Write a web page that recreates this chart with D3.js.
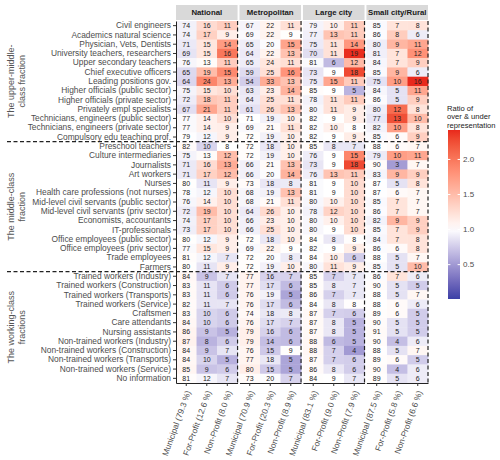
<!DOCTYPE html>
<html><head><meta charset="utf-8">
<script src="https://cdn.jsdelivr.net/npm/d3@7"></script>
<style>body{margin:0;background:#fff} svg{display:block} text{font-family:"Liberation Sans",Arial,sans-serif}</style>
</head><body><svg id="c" width="500" height="460"></svg>
<script>
const occupations = [
 "Civil engineers","Academics natural science","Physician, Vets, Dentists","University teachers, researchers",
 "Upper secondary teachers","Chief executive officers","Leading positions gov.","Higher officials (public sector)",
 "Higher officials (private sector)","Privately empl specialists","Technicians, engineers (public sector)",
 "Technicians, engineers (private sector)","Compulsory edu teaching prof.",
 "Preschool teachers","Culture intermediaries","Journalists","Art workers","Nurses",
 "Health care professions (not nurses)","Mid-level civil servants (public sector)","Mid-level civil servants (priv sector)",
 "Economists, accountants","IT-professionals","Office employees (public sector)","Office employees (priv sector)",
 "Trade employees","Farmers",
 "Trained workers (Industry)","Trained workers (Construction)","Trained workers (Transports)","Trained workers (Service)",
 "Craftsmen","Care attendants","Nursing assistants","Non-trained workers (Industry)","Non-trained workers (Construction)",
 "Non-trained workers (Transports)","Non-trained workers (Service)","No information"
];
const groupLabels = [["The upper-middle-","class fraction"],["The middle-class","fraction"],["The working-class","fractions"]];
const groupSizes = [13,14,12];
const areas = ["National","Metropolitan","Large city","Small city/Rural"];
const sectors = ["Municipal","For-Profit","Non-Profit"];
const sharesNational = [79.3,12.6,8.0];
const sharesMetropolitan = [70.9,20.3,8.9];
const sharesLargeCity = [83.1,9.0,7.9];
const sharesSmallCity = [87.5,5.8,6.6];
const valuesNational = [
 [74,16,11],[74,17,9],[71,15,14],[69,15,16],[76,13,11],[65,19,15],[64,24,13],[75,15,10],[72,18,11],[67,21,11],[77,14,10],[77,14,9],[79,12,9],
 [82,10,8],[75,13,12],[71,16,13],[71,17,12],[80,11,9],[78,12,10],[76,14,10],[72,19,10],[74,17,10],[73,17,10],[80,12,9],[77,15,9],[81,12,7],[80,11,9],
 [84,9,7],[83,11,6],[83,11,6],[82,11,7],[83,10,6],[84,10,6],[86,9,5],[87,8,6],[84,9,7],[84,10,5],[85,9,6],[81,12,7]
];
const valuesMetropolitan = [
 [67,22,11],[69,22,9],[65,20,15],[64,22,13],[65,24,11],[59,25,16],[54,33,13],[63,23,14],[64,25,11],[61,26,13],[71,19,10],[69,21,11],[72,19,10],
 [72,18,10],[72,19,10],[66,21,13],[66,20,14],[73,18,8],[68,19,13],[68,21,11],[64,26,10],[66,23,10],[66,25,10],[72,18,10],[69,22,9],[72,20,8],[72,19,10],
 [77,16,7],[77,17,6],[76,19,5],[76,17,6],[74,18,8],[76,17,7],[79,16,6],[79,14,6],[76,15,9],[77,18,5],[80,15,5],[73,20,7]
];
const valuesLargeCity = [
 [79,10,11],[77,13,11],[75,11,14],[70,11,19],[81,6,12],[73,9,18],[75,15,11],[85,9,5],[78,11,11],[80,11,9],[82,9,9],[82,10,8],[82,9,9],
 [85,8,7],[76,9,15],[73,9,18],[76,13,11],[81,9,10],[81,9,10],[80,10,10],[78,12,10],[80,10,10],[80,9,10],[84,8,8],[82,9,9],[84,10,6],[80,11,9],
 [85,7,7],[85,8,7],[86,7,7],[84,8,8],[87,7,6],[87,8,5],[87,8,5],[88,6,5],[88,7,4],[87,7,6],[86,8,6],[84,9,7]
];
const valuesSmallCity = [
 [85,7,8],[86,8,6],[80,9,11],[81,7,12],[84,7,9],[85,9,6],[75,10,16],[84,5,11],[86,5,9],[80,12,8],[77,13,10],[82,10,8],[85,6,9],
 [88,6,7],[79,10,11],[90,3,7],[83,9,9],[87,5,8],[87,6,7],[85,7,7],[86,7,7],[82,9,9],[85,7,9],[84,7,8],[86,6,8],[88,5,7],[85,5,10],
 [86,7,6],[90,5,5],[88,5,7],[88,6,6],[89,6,5],[90,5,5],[91,5,5],[90,4,6],[88,5,7],[89,6,5],[90,4,6],[89,5,6]
];
const legendTicks = [0.5,1.0,1.5,2.0];
const legendTitle = ["Ratio of","over & under","representation"];

const panelValues = [valuesNational, valuesMetropolitan, valuesLargeCity, valuesSmallCity];
const panelShares = [sharesNational, sharesMetropolitan, sharesLargeCity, sharesSmallCity];

const svg = d3.select("#c");
const pTop = 21, pBottom = 383, pLeft = 176, pRight = 428;
const y = d3.scaleBand().domain(occupations).range([pTop, pBottom]);
const px = d3.scaleBand().domain(areas).range([pLeft, pRight]).paddingInner(0.03);
const cx = d3.scaleBand().domain(sectors).range([0, px.bandwidth()]);
const color = d3.scaleLinear().domain([0.01, 1, 2.42]).range(["#3b3fa6", "#ffffff", "#e8291c"]).interpolate(d3.interpolateLab).clamp(true);

const cells = [];
areas.forEach((a, ai) => {
  occupations.forEach((o, oi) => {
    sectors.forEach((s, si) => {
      const v = panelValues[ai][oi][si];
      cells.push({a, o, s, v, r: v / panelShares[ai][si]});
    });
  });
});

const g = svg.append("g");
g.selectAll("rect.cell").data(cells).join("rect")
  .attr("x", d => px(d.a) + cx(d.s))
  .attr("y", d => y(d.o))
  .attr("width", cx.bandwidth() + 0.4)
  .attr("height", y.bandwidth() + 0.4)
  .attr("fill", d => color(d.r));
g.selectAll("text.num").data(cells).join("text")
  .attr("x", d => px(d.a) + cx(d.s) + cx.bandwidth() / 2)
  .attr("y", d => y(d.o) + y.bandwidth() / 2)
  .attr("dy", "0.35em").attr("text-anchor", "middle")
  .attr("font-size", 7).attr("fill", "#222")
  .text(d => d.v);

// strips
areas.forEach(a => {
  svg.append("rect").attr("x", px(a)).attr("y", 5).attr("width", px.bandwidth()).attr("height", 15).attr("fill", "#d9d9d9");
  svg.append("text").attr("x", px(a) + px.bandwidth() / 2).attr("y", 12.5).attr("dy", "0.35em")
    .attr("text-anchor", "middle").attr("font-size", 7.8).attr("font-weight", "bold").attr("fill", "#1a1a1a").text(a);
});

// y axis
const yAxis = svg.append("g").attr("transform", `translate(${pLeft},0)`)
  .call(d3.axisLeft(y).tickSize(3).tickSizeOuter(0).tickPadding(2));
yAxis.select(".domain").attr("stroke", "#222").attr("stroke-width", 1);
yAxis.selectAll(".tick line").attr("stroke", "#333");
yAxis.selectAll(".tick text").attr("font-size", 8.4).attr("fill", "#4d4d4d").attr("font-family", "Liberation Sans, Arial, sans-serif");

// x axes
areas.forEach((a, ai) => {
  const ax = svg.append("g").attr("transform", `translate(${px(a)},${pBottom})`)
    .call(d3.axisBottom(cx).tickSize(3).tickSizeOuter(0)
      .tickFormat((s, i) => `${s} (${panelShares[ai][i].toFixed(1)} %)`));
  ax.select(".domain").attr("stroke", "#222");
  ax.selectAll(".tick line").attr("stroke", "#333");
  ax.selectAll(".tick text").attr("font-size", 8.3).attr("fill", "#4d4d4d")
    .attr("font-family", "Liberation Sans, Arial, sans-serif")
    .attr("text-anchor", "end").attr("y", 0).attr("dy", "0.35em")
    .attr("transform", "translate(2,8) rotate(-70)");
  svg.append("line").attr("x1", px(a) + px.bandwidth()).attr("x2", px(a) + px.bandwidth())
    .attr("y1", pTop).attr("y2", pBottom).attr("stroke", "#222").attr("stroke-width", 1.2).attr("stroke-dasharray", "4,2.5");
});

// horizontal separators and group labels
let start = 0;
groupSizes.forEach((n, gi) => {
  const y0 = y(occupations[start]);
  const y1 = start + n < occupations.length ? y(occupations[start + n]) : pBottom;
  if (start + n < occupations.length) {
    svg.append("line").attr("x1", 7).attr("x2", pRight).attr("y1", y1).attr("y2", y1)
      .attr("stroke", "#222").attr("stroke-width", 1.2).attr("stroke-dasharray", "4,2.5");
  }
  const ym = (y0 + y1) / 2;
  groupLabels[gi].forEach((t, li) => {
    svg.append("text").attr("transform", `translate(${10.5 + li * 11.5},${ym}) rotate(-90)`)
      .attr("dy", "0.35em").attr("text-anchor", "middle").attr("font-size", 9).attr("fill", "#555").text(t);
  });
  start += n;
});

// legend
const lx = 448, lw = 12;
const ly = d3.scaleLinear().domain([0.01, 2.42]).range([299, 130]);
const defs = svg.append("defs");
const grad = defs.append("linearGradient").attr("id", "lg").attr("x1", 0).attr("y1", 1).attr("x2", 0).attr("y2", 0);
d3.range(0, 1.0001, 0.05).forEach(t => {
  grad.append("stop").attr("offset", t).attr("stop-color", color(0.01 + t * (2.42 - 0.01)));
});
svg.append("rect").attr("x", lx).attr("y", 130).attr("width", lw).attr("height", 169).attr("fill", "url(#lg)");
legendTicks.forEach(v => {
  svg.append("line").attr("x1", lx).attr("x2", lx + 2.4).attr("y1", ly(v)).attr("y2", ly(v)).attr("stroke", "#fff");
  svg.append("line").attr("x1", lx + lw - 2.4).attr("x2", lx + lw).attr("y1", ly(v)).attr("y2", ly(v)).attr("stroke", "#fff");
  svg.append("text").attr("x", lx + lw + 3).attr("y", ly(v)).attr("dy", "0.35em").attr("font-size", 8)
    .attr("fill", "#4d4d4d").text(v.toFixed(1));
});
legendTitle.forEach((t, i) => {
  svg.append("text").attr("x", lx - 1).attr("y", 110.5 + i * 8.5).attr("font-size", 7.6).attr("fill", "#222").text(t);
});
</script></body></html>
